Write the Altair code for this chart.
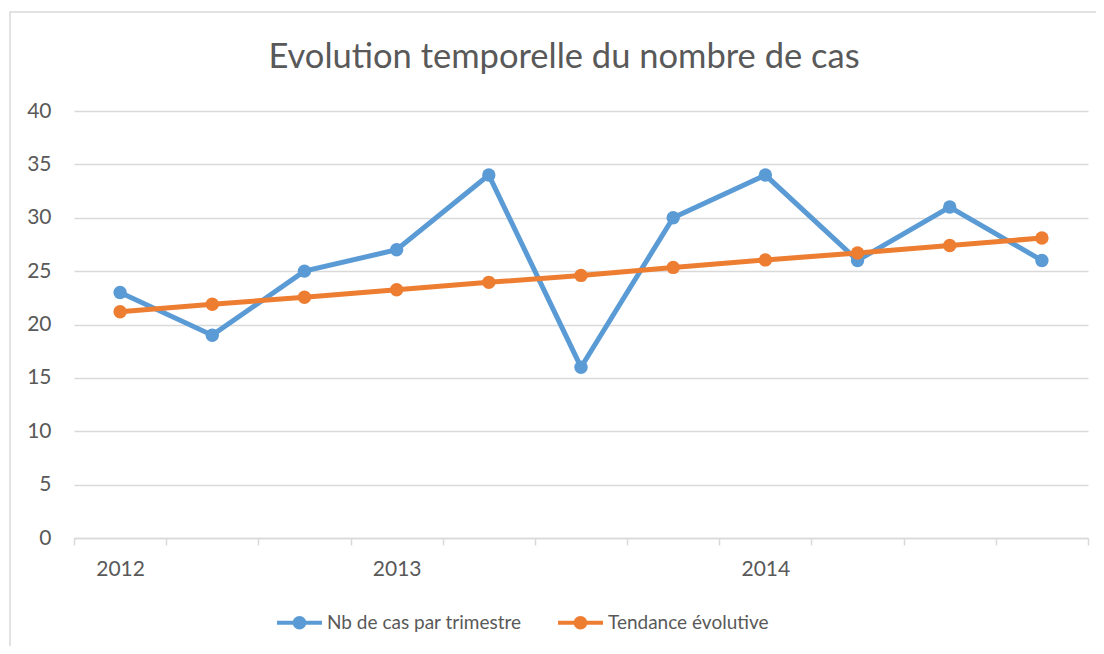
import altair as alt
import pandas as pd

# ---- data ----
quarters = list(range(11))
cases = [23, 19, 25, 27, 34, 16, 30, 34, 26, 31, 26]
trend = [21.2, 21.9, 22.55, 23.25, 23.95, 24.6, 25.35, 26.05, 26.7, 27.4, 28.1]
tick_labels = ["2012", "", "", "2013", "", "", "", "2014", "", "", ""]
series_names = ["Nb de cas par trimestre", "Tendance évolutive"]
series_colors = ["#5B9BD5", "#ED7D31"]
title_text = "Evolution temporelle du nombre de cas"

rows = []
for i, v in zip(quarters, cases):
    rows.append({"q": i, "v": v, "s": series_names[0]})
for i, v in zip(quarters, trend):
    rows.append({"q": i, "v": v, "s": series_names[1]})
df = pd.DataFrame(rows)

FONT = "Lato"
TXT = "#595959"
GRID = "#d9d9d9"

label_expr = " : ".join(
    f"datum.value === {q} ? '{lab}'" for q, lab in zip(quarters, tick_labels) if lab
) + " : ''"
tick_vals = sorted([q - 0.5 for q in quarters] + list(quarters) + [quarters[-1] + 0.5])

x = alt.X(
    "q:Q",
    scale=alt.Scale(domain=[quarters[0] - 0.5, quarters[-1] + 0.5], nice=False, zero=False),
    axis=alt.Axis(
        title=None,
        values=tick_vals,
        labelExpr=label_expr,
        grid=False,
        domainColor=GRID,
        domainWidth=1.5,
        tickColor=GRID,
        tickWidth=1.5,
        tickSize=7,
        tickOpacity={"condition": {"test": "datum.value % 1 === 0", "value": 0}, "value": 1},
        labelFont=FONT,
        labelFontSize=21,
        labelColor=TXT,
        labelPadding=13,
        labelOverlap=False,
    ),
)
y = alt.Y(
    "v:Q",
    scale=alt.Scale(domain=[0, 40], nice=False),
    axis=alt.Axis(
        title=None,
        values=list(range(0, 41, 5)),
        grid=True,
        gridColor=GRID,
        gridWidth=1.5,
        domain=False,
        ticks=False,
        tickSize=0,
        labelFont=FONT,
        labelFontSize=21,
        labelColor=TXT,
        labelPadding=23,
    ),
)

legend_symbol = (
    "M-1,-0.09H1V0.09H-1Z "
    "M0.3,0A0.3,0.3 0 1,1 -0.3,0A0.3,0.3 0 1,1 0.3,0Z"
)

color = alt.Color(
    "s:N",
    scale=alt.Scale(domain=series_names, range=series_colors),
    sort=series_names,
    legend=alt.Legend(
        title=None,
        orient="none",
        direction="horizontal",
        legendX=203,
        legendY=489,
        symbolType=legend_symbol,
        symbolSize=2025,
        symbolStrokeWidth=0,
        symbolOpacity=1,
        labelFont=FONT,
        labelFontSize=19,
        labelColor=TXT,
        labelOffset=5,
        labelLimit=400,
        columnPadding=36,
        padding=0,
    ),
)

base = alt.Chart(df)
lines = base.mark_line(strokeWidth=5).encode(x=x, y=y, color=color, detail="s:N")
points = base.mark_point(filled=True, size=180, opacity=1).encode(x=x, y=y, color=color)

one = pd.DataFrame({"t": [title_text]})
border = alt.Chart(one).mark_rect(
    fillOpacity=0, stroke=GRID, strokeWidth=1.5
).encode(
    x=alt.value(-64), x2=alt.value(1200), y=alt.value(-99), y2=alt.value(800)
)
title = alt.Chart(one).mark_text(
    font=FONT, fontSize=34.5, color=TXT, align="center", baseline="alphabetic"
).encode(text="t:N", x=alt.value(490), y=alt.value(-43))

chart = alt.layer(border, title, lines, points).properties(
    width=1014,
    height=427,
    padding={"left": 66, "top": 103, "right": 8, "bottom": 108},
    autosize=alt.AutoSizeParams(type="none"),
).configure_view(stroke=None)

chart.save("out.html", embed_options={"renderer": "svg", "actions": False})
